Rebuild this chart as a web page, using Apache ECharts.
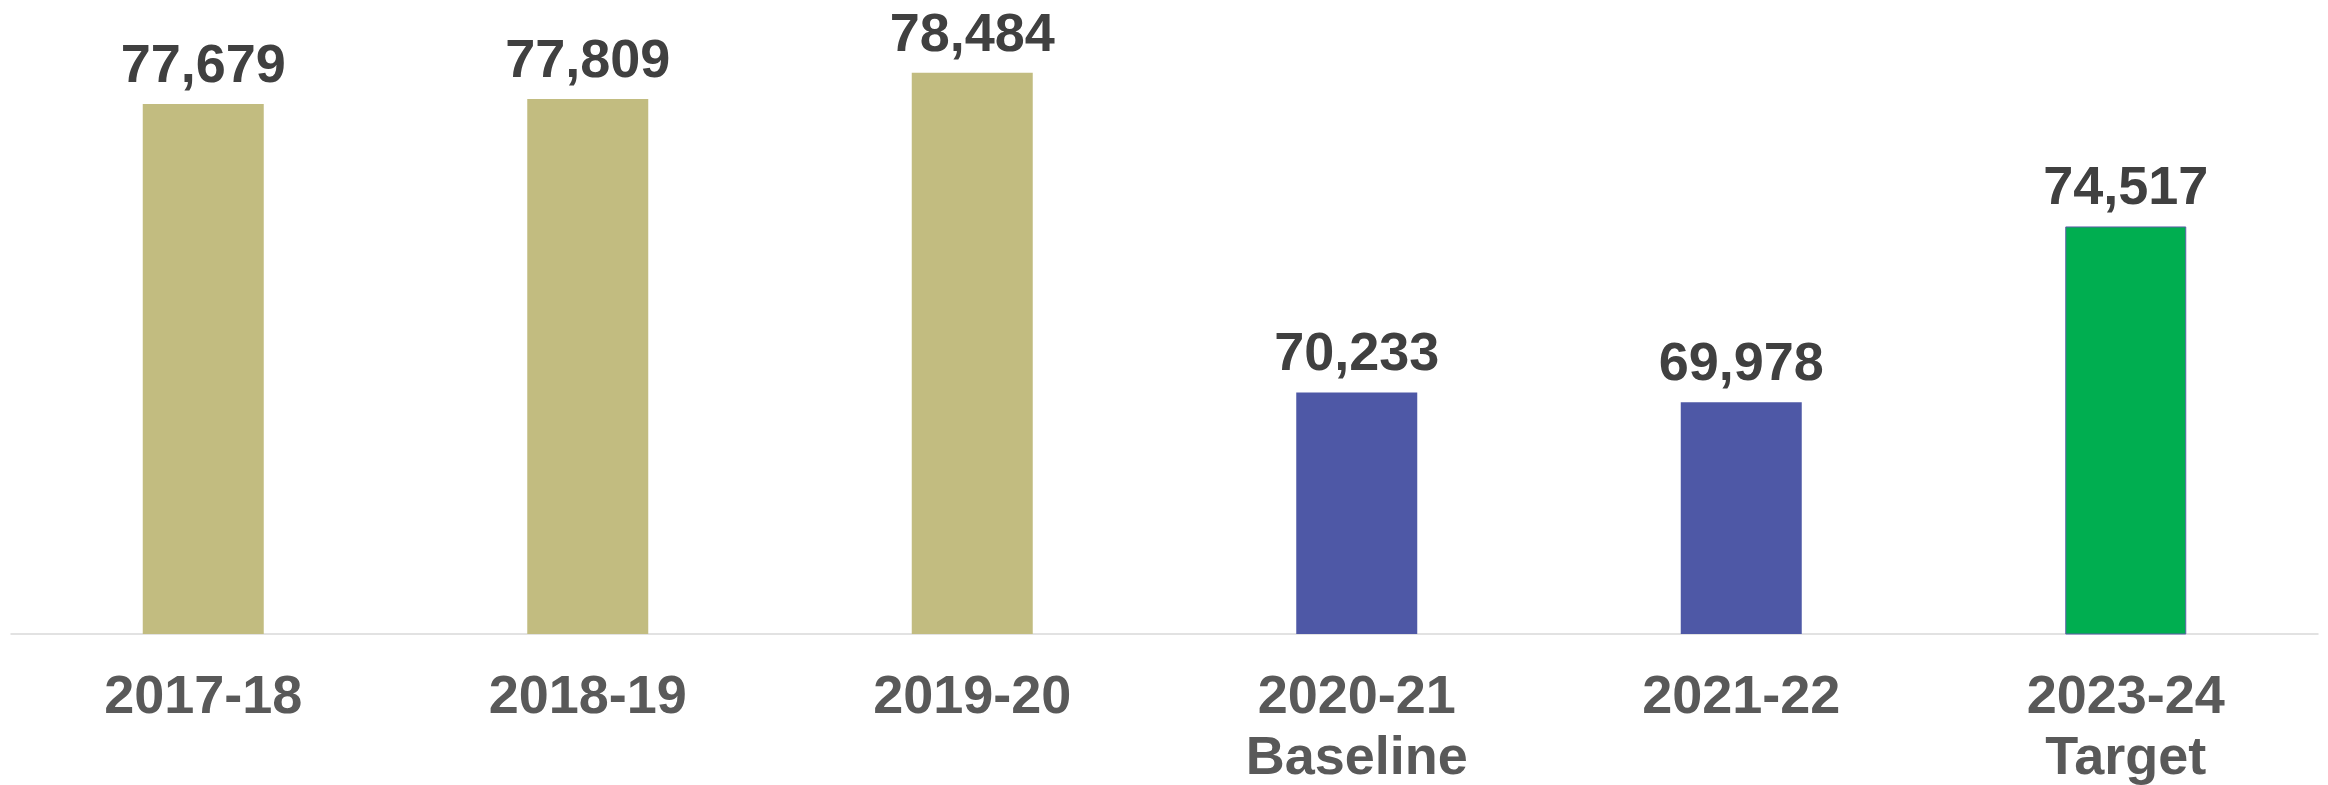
<!DOCTYPE html>
<html>
<head>
<meta charset="utf-8">
<script src="https://cdn.jsdelivr.net/npm/echarts@6/dist/echarts.min.js"></script>
<style>
  html, body { margin: 0; padding: 0; background: #ffffff; }
  #chart { width: 2328px; height: 785px; }
</style>
</head>
<body>
<div id="chart"></div>
<script>
// Fiscal years shown on the x axis (second line marks the baseline / target years)
const categories = ['2017-18', '2018-19', '2019-20', '2020-21\nBaseline', '2021-22', '2023-24\nTarget'];
// Yearly totals
const values = [77679, 77809, 78484, 70233, 69978, 74517];
// Bar fill per year: earlier years, baseline period, target
const barColors = ['#c2bc80', '#c2bc80', '#c2bc80', '#4e58a6', '#4e58a6', '#00ae50'];

const chart = echarts.init(document.getElementById('chart'), null, { renderer: 'canvas' });

const fontFamily = '"Liberation Sans", Arial, Helvetica, sans-serif';

chart.setOption({
  animation: false,
  backgroundColor: '#ffffff',
  grid: { left: 11, right: 10, top: 14, bottom: 151, containLabel: false, outerBoundsMode: 'none' },
  xAxis: {
    type: 'category',
    data: categories,
    axisLine: { show: true, lineStyle: { color: '#d9d9d9', width: 1.5 } },
    axisTick: { show: false },
    axisLabel: {
      interval: 0,
      margin: 34,
      color: '#595959',
      fontFamily: fontFamily,
      fontWeight: 'bold',
      fontSize: 54,
      lineHeight: 61
    }
  },
  yAxis: {
    type: 'value',
    min: 64000,
    max: 80000,
    show: false,
    splitLine: { show: false }
  },
  series: [{
    type: 'bar',
    barWidth: 121,
    data: values.map((v, i) => ({
      value: v,
      itemStyle: {
        color: barColors[i],
        borderColor: i === 5 ? '#5b5fa8' : barColors[i],
        borderWidth: i === 5 ? 1 : 0
      }
    })),
    label: {
      show: true,
      position: 'top',
      distance: 10,
      color: '#404040',
      fontFamily: fontFamily,
      fontWeight: 'bold',
      fontSize: 54,
      formatter: p => p.value.toLocaleString('en-US')
    }
  }]
});
</script>
</body>
</html>
